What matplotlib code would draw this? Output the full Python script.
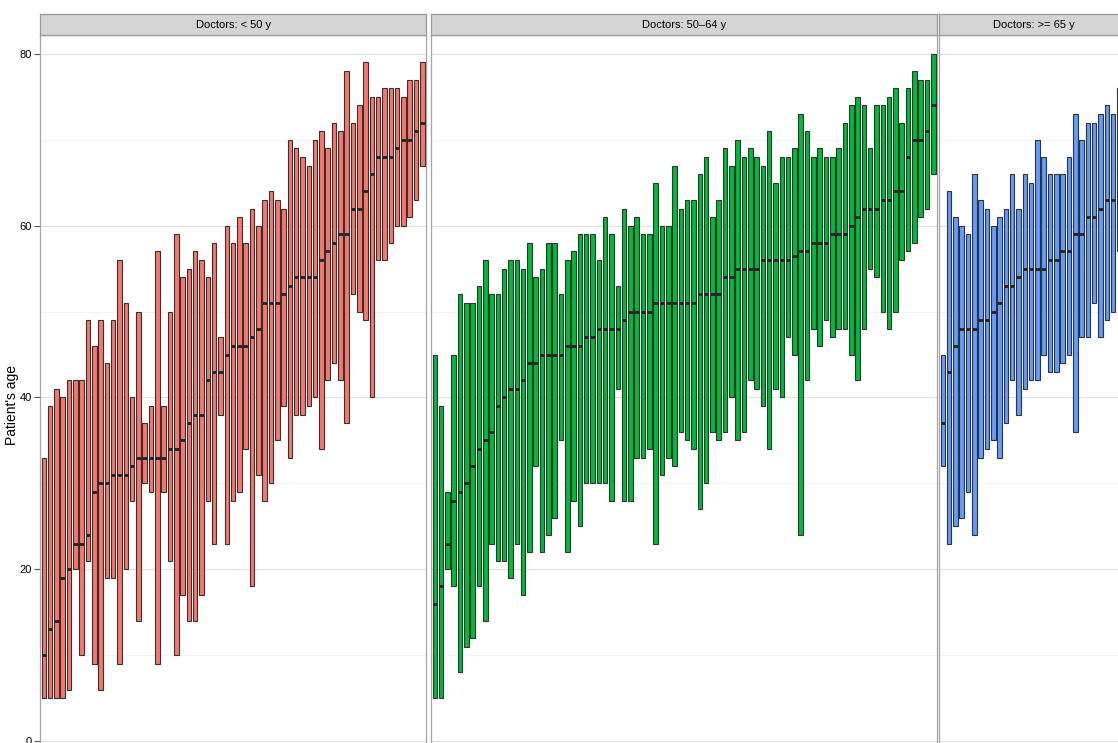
import numpy as np
import matplotlib.pyplot as plt

plt.rcParams['font.family'] = ['Liberation Sans Narrow', 'Liberation Sans', 'DejaVu Sans']

# patient age range (min, max) and median for each doctor, sorted by median
red_low = [5, 5, 5, 5, 6, 20, 10, 21, 9, 6, 19, 19, 9, 20, 28, 14, 30, 29, 9, 29,
           21, 10, 17, 14, 14, 17, 28, 23, 38, 23, 28, 29, 34, 18, 31, 28, 30, 35, 39, 33,
           38, 38, 39, 40, 34, 42, 44, 42, 37, 52, 50, 49, 40, 56, 56, 58, 60, 60, 61, 63, 67]
red_high = [33, 39, 41, 40, 42, 42, 42, 49, 46, 49, 44, 49, 56, 51, 40, 50, 37, 39, 57, 39,
            50, 59, 54, 55, 57, 56, 54, 58, 47, 60, 58, 61, 58, 62, 60, 63, 64, 63, 62, 70,
            69, 68, 67, 70, 71, 69, 72, 71, 78, 72, 74, 79, 75, 75, 76, 76, 76, 75, 77, 77, 79]
red_med = [10, 13, 14, 19, 20, 23, 23, 24, 29, 30, 30, 31, 31, 31, 32, 33, 33, 33, 33, 33,
           34, 34, 35, 37, 38, 38, 42, 43, 43, 45, 46, 46, 46, 47, 48, 51, 51, 51, 52, 53,
           54, 54, 54, 54, 56, 57, 58, 59, 59, 62, 62, 64, 66, 68, 68, 68, 69, 70, 70, 71, 72]

green_low = [5, 5, 20, 18, 8, 11, 12, 18, 14, 23, 21, 21, 19, 23, 17, 22, 32, 22, 24, 26,
             35, 22, 28, 25, 30, 30, 30, 30, 28, 41, 28, 28, 33, 33, 34, 23, 31, 33, 32, 36,
             35, 34, 27, 30, 36, 35, 36, 40, 35, 36, 42, 41, 39, 34, 41, 40, 47, 45, 24, 42,
             48, 46, 49, 47, 48, 48, 45, 42, 48, 55, 54, 50, 48, 50, 56, 57, 58, 61, 62, 66]
green_high = [45, 39, 29, 45, 52, 51, 51, 53, 56, 52, 52, 55, 56, 56, 55, 58, 54, 55, 58, 58,
              52, 56, 57, 59, 59, 59, 56, 61, 59, 53, 62, 60, 61, 59, 59, 65, 60, 60, 67, 62,
              63, 63, 66, 68, 61, 63, 69, 67, 70, 68, 69, 68, 67, 71, 65, 68, 68, 69, 73, 71,
              68, 69, 68, 68, 69, 72, 74, 75, 74, 69, 74, 74, 75, 76, 72, 76, 78, 77, 77, 80]
green_med = [16, 18, 23, 28, 29, 30, 32, 34, 35, 36, 39, 40, 41, 41, 42, 44, 44, 45, 45, 45,
             45, 46, 46, 46, 47, 47, 48, 48, 48, 48, 49, 50, 50, 50, 50, 51, 51, 51, 51, 51,
             51, 51, 52, 52, 52, 52, 54, 54, 55, 55, 55, 55, 56, 56, 56, 56, 56, 56.5, 57, 57,
             58, 58, 58, 59, 59, 59, 60, 61, 62, 62, 62, 63, 63, 64, 64, 68, 70, 70, 71, 74]

blue_low = [32, 23, 25, 26, 29, 24, 33, 34, 35, 33, 37, 42, 38, 41, 42, 42, 45, 43, 43, 44,
            45, 36, 47, 47, 51, 47, 49, 50, 57]
blue_high = [45, 64, 61, 60, 59, 66, 63, 62, 60, 61, 62, 66, 62, 66, 65, 70, 68, 66, 66, 66,
             68, 73, 70, 72, 72, 73, 74, 73, 76]
blue_med = [37, 43, 46, 48, 48, 48, 49, 49, 50, 51, 53, 53, 54, 55, 55, 55, 55, 56, 56, 57,
            57, 59, 59, 61, 61, 62, 63, 63, 66]

facets = [
    ('Doctors: < 50 y', red_low, red_high, red_med, '#F8766D', 61),
    ('Doctors: 50\u201364 y', green_low, green_high, green_med, '#00BA38', 80),
    ('Doctors: >= 65 y', blue_low, blue_high, blue_med, '#619CFF', 30),
]

W, H = 1118, 743
fig = plt.figure(figsize=(W / 100, H / 100), dpi=100)

unit = 6.31            # px per doctor slot
px_per_year = 8.59     # px per year of age
ylim = (-4, 82.2)
top_px = 35            # top of the panels
strip_h = 21
lefts = [40, 431, 939]

for i, (label, lo, hi, med, col, nslots) in enumerate(facets):
    left = lefts[i]
    width = (nslots - 1 + 1.2) * unit
    height = (ylim[1] - ylim[0]) * px_per_year
    ax = fig.add_axes([left / W, 1 - (top_px + height) / H, width / W, height / H])

    lo = np.array(lo, dtype=float)
    hi = np.array(hi, dtype=float)
    med = np.array(med, dtype=float)
    x = np.arange(len(lo))
    bw = 0.72
    ax.bar(x, hi - lo, bottom=lo, width=bw, color=col, edgecolor='#333333',
           linewidth=0.8, zorder=3)
    ax.hlines(med, x - bw / 2, x + bw / 2, color='#222222', linewidth=2.0, zorder=4)

    ax.set_xlim(-0.6, nslots - 1 + 0.6)
    ax.set_ylim(*ylim)
    ax.set_yticks([0, 20, 40, 60, 80])
    ax.set_yticks([10, 30, 50, 70], minor=True)
    ax.grid(True, which='major', axis='y', color='#e3e3e3', linewidth=0.9, zorder=0)
    ax.grid(True, which='minor', axis='y', color='#f3f3f3', linewidth=0.8, zorder=0)
    ax.set_xticks([])
    for s in ax.spines.values():
        s.set_color('#a6a6a6')
        s.set_linewidth(0.9)

    if i == 0:
        ax.tick_params(axis='y', which='major', length=4, width=0.8, color='#555555',
                       labelsize=8, pad=2)
        ax.tick_params(axis='y', which='minor', length=0)
        ax.set_ylabel("Patient's age", fontsize=10,
                      family=['Liberation Sans', 'DejaVu Sans'])
        ax.yaxis.set_label_coords(-21 / width, 0.5)
    else:
        ax.tick_params(axis='y', which='both', length=0, labelleft=False)

    # facet strip above the panel
    sax = fig.add_axes([left / W, 1 - (top_px) / H, width / W, strip_h / H])
    sax.set_facecolor('#d4d4d4')
    sax.set_xticks([])
    sax.set_yticks([])
    for s in sax.spines.values():
        s.set_color('#9a9a9a')
        s.set_linewidth(0.9)
    sax.text(0.5, 0.5, label, ha='center', va='center', fontsize=8,
             transform=sax.transAxes)

fig.savefig('out.png', dpi=100)
